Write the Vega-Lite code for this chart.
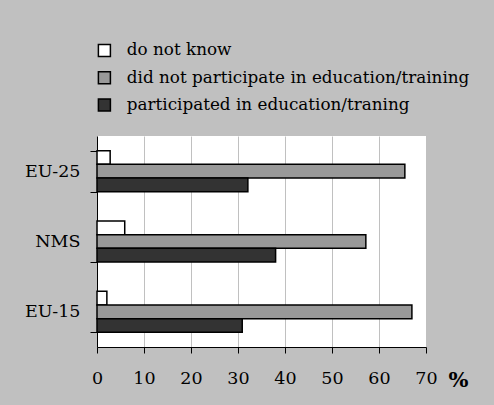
{
  "$schema": "https://vega.github.io/schema/vega-lite/v6.json",
  "width": 329,
  "height": 211,
  "autosize": {"type": "none"},
  "padding": {"left": 97, "top": 136, "right": 68, "bottom": 58},
  "background": "#C0C0C0",
  "config": {
    "font": "DejaVu Serif",
    "view": {"fill": "white", "stroke": null}
  },
  "data": {
    "values": [
      {"region": "EU-25", "series": "do not know", "value": 2.8},
      {"region": "EU-25", "series": "did not participate in education/training", "value": 65.5},
      {"region": "EU-25", "series": "participated in education/traning", "value": 32.1},
      {"region": "NMS", "series": "do not know", "value": 5.9},
      {"region": "NMS", "series": "did not participate in education/training", "value": 57.2},
      {"region": "NMS", "series": "participated in education/traning", "value": 38.0},
      {"region": "EU-15", "series": "do not know", "value": 2.1},
      {"region": "EU-15", "series": "did not participate in education/training", "value": 67.0},
      {"region": "EU-15", "series": "participated in education/traning", "value": 30.9}
    ]
  },
  "mark": {"type": "bar", "stroke": "black", "strokeWidth": 1.5},
  "encoding": {
    "y": {
      "field": "region",
      "type": "nominal",
      "sort": ["EU-25", "NMS", "EU-15"],
      "scale": {"paddingInner": 0.417, "paddingOuter": 0.2085},
      "axis": {
        "title": null,
        "tickBand": "extent",
        "tickSize": 7,
        "tickColor": "black",
        "domainColor": "black",
        "labelFont": "DejaVu Serif",
        "labelFontSize": 17.5,
        "labelColor": "black",
        "labelPadding": 10,
        "grid": false
      }
    },
    "yOffset": {
      "field": "series",
      "type": "nominal",
      "sort": ["do not know", "did not participate in education/training", "participated in education/traning"],
      "scale": {"paddingInner": 0, "paddingOuter": 0}
    },
    "x": {
      "field": "value",
      "type": "quantitative",
      "scale": {"domain": [0, 70], "nice": false},
      "axis": {
        "values": [0, 10, 20, 30, 40, 50, 60, 70],
        "title": "%",
        "titleFont": "DejaVu Serif",
        "titleFontSize": 21,
        "titleFontWeight": "bold",
        "titleColor": "black",
        "titleX": 361,
        "titleY": 33,
        "titleBaseline": "middle",
        "titleAnchor": "middle",
        "titleAlign": "center",
        "grid": true,
        "gridColor": "#C0C0C0",
        "tickSize": 6,
        "tickColor": "black",
        "domainColor": "black",
        "labelFont": "DejaVu Serif",
        "labelFontSize": 17.5,
        "labelColor": "black",
        "labelPadding": 16,
        "labelFlush": false
      }
    },
    "fill": {
      "field": "series",
      "type": "nominal",
      "scale": {
        "domain": ["do not know", "did not participate in education/training", "participated in education/traning"],
        "range": ["#FFFFFF", "#999999", "#333333"]
      },
      "legend": {
        "title": null,
        "orient": "none",
        "legendX": -1,
        "legendY": -94,
        "padding": 0,
        "symbolType": "square",
        "symbolSize": 144,
        "symbolStrokeColor": "black",
        "symbolStrokeWidth": 1.5,
        "labelFont": "DejaVu Serif",
        "labelFontSize": 16.8,
        "labelColor": "black",
        "labelOffset": 14,
        "rowPadding": 8.3,
        "labelLimit": 500
      }
    }
  }
}
